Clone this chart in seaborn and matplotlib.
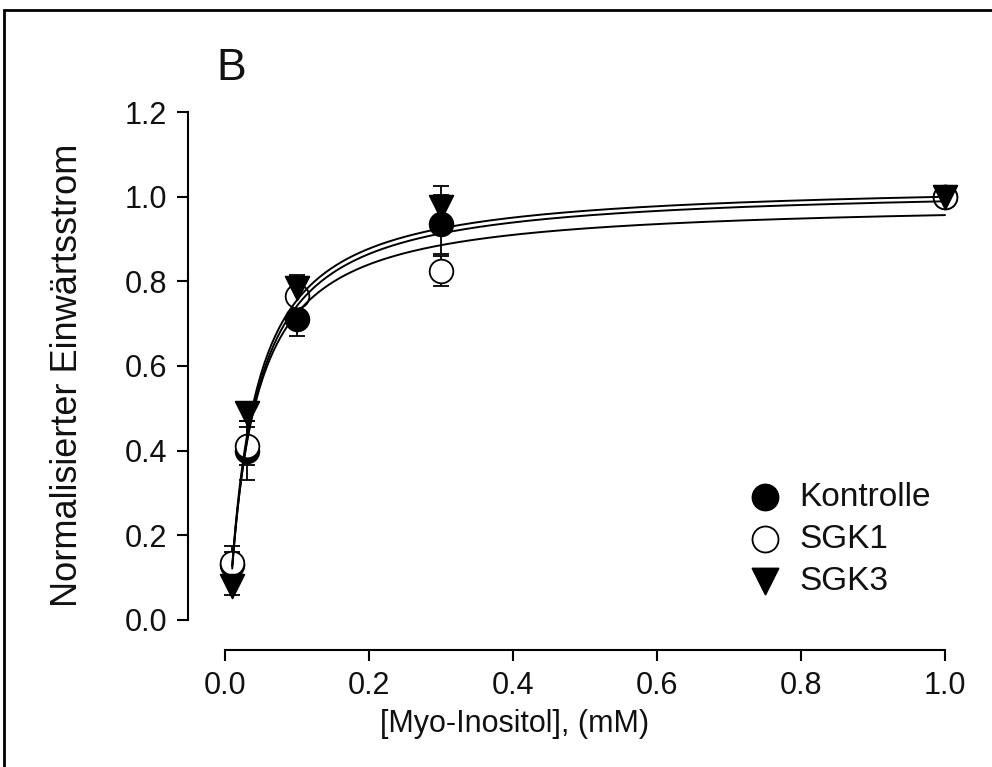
import numpy as np
import pandas as pd
import matplotlib.pyplot as plt
import seaborn as sns
from matplotlib import font_manager
from matplotlib.patches import Rectangle

# Myo-Inositol concentrations (mM)
conc = [0.01, 0.03, 0.1, 0.3, 1.0]

kontrolle = [0.13, 0.40, 0.71, 0.935, 1.0]
kontrolle_err = [0.03, 0.07, 0.04, 0.07, 0.0]
sgk1 = [0.135, 0.41, 0.765, 0.825, 1.0]
sgk1_err = [0.04, 0.045, 0.02, 0.035, 0.0]
sgk3 = [0.08, 0.49, 0.785, 0.975, 1.0]
sgk3_err = [0.02, 0.02, 0.03, 0.05, 0.0]

# fitted hyperbolas y = y0 + V*x/(K+x): (y0, V, K)
fit_kontrolle = (-0.17, 1.195, 0.031)
fit_sgk1 = (-0.16, 1.15, 0.030)
fit_sgk3 = (-0.175, 1.21, 0.030)

xticks = [0.0, 0.2, 0.4, 0.6, 0.8, 1.0]
yticks = [0.0, 0.2, 0.4, 0.6, 0.8, 1.0, 1.2]

sns.set_theme(style='white')
plt.rcParams['font.family'] = ['Liberation Sans', 'DejaVu Sans']

try:
    font_manager.findfont('Liberation Sans Narrow', fallback_to_default=False)
    xlab_font, xlab_size = ['Liberation Sans Narrow', 'Liberation Sans'], 26
except ValueError:
    xlab_font, xlab_size = ['Liberation Sans', 'DejaVu Sans'], 22

fig = plt.figure(figsize=(9.92, 7.67), dpi=100)
ax = fig.add_axes([188 / 992, 1 - 650 / 767, (960 - 188) / 992, (650 - 112) / 767])

series = [
    ('Kontrolle', kontrolle, kontrolle_err, 'o', 'black'),
    ('SGK1', sgk1, sgk1_err, 'o', 'white'),
    ('SGK3', sgk3, sgk3_err, 'v', 'black'),
]
for name, vals, err, marker, face in series:
    ax.errorbar(conc, vals, yerr=err, fmt='none', ecolor='black', elinewidth=1.3,
                capsize=6, capthick=1.3, zorder=2)
    df = pd.DataFrame({'x': conc, 'y': vals})
    sns.scatterplot(data=df, x='x', y='y', marker=marker, s=290, color=face,
                    edgecolor='black', linewidth=1.3, ax=ax, zorder=3, label=name,
                    clip_on=False)

xs = np.linspace(conc[0], conc[-1], 400)
for y0, vmax, k in [fit_kontrolle, fit_sgk1, fit_sgk3]:
    curve = pd.DataFrame({'x': xs, 'y': y0 + vmax * xs / (k + xs)})
    sns.lineplot(data=curve, x='x', y='y', color='black', linewidth=1.4, ax=ax, zorder=4)

ax.set_xlim(-0.0514, 1.0208)
ax.set_ylim(-0.0709, 1.2)
ax.set_xticks(xticks)
ax.set_yticks(yticks)
ax.set_xticklabels([f'{t:.1f}' for t in xticks])
ax.set_yticklabels([f'{t:.1f}' for t in yticks])
for s in ['top', 'right']:
    ax.spines[s].set_visible(False)
ax.spines['left'].set_bounds(0, 1.2)
ax.spines['bottom'].set_bounds(0, 1.0)
for s in ['left', 'bottom']:
    ax.spines[s].set_color('black')
    ax.spines[s].set_linewidth(1.5)
ax.tick_params(axis='both', direction='out', length=8, width=1.5, color='black',
               labelsize=22, labelcolor='#111111', bottom=True, left=True, pad=7)
ax.set_xlabel('')
ax.set_ylabel('')
ax.grid(False)

fig.text(515 / 992, 1 - 724 / 767, '[Myo-Inositol], (mM)', fontsize=xlab_size,
         family=xlab_font, color='#111111', ha='center', va='center')
fig.text(68 / 992, 1 - 375 / 767, 'Normalisierter Einwärtsstrom', fontsize=26,
         color='#111111', ha='center', va='center', rotation=90)

ax.legend(loc='upper left', bbox_to_anchor=(718 / 992, 1 - 452 / 767),
          bbox_transform=fig.transFigure, frameon=False, fontsize=24,
          handlelength=1.0, handletextpad=0.55, labelspacing=0.33, borderpad=0.4,
          labelcolor='#111111', markerscale=1.1)

fig.text(216 / 992, 1 - 80 / 767, 'B', fontsize=32, color='#111111')
fig.add_artist(Rectangle((4 / 992, -0.1), 1.2, 1 - 10 / 767 + 0.1, transform=fig.transFigure,
                         fill=False, edgecolor='black', linewidth=2))

fig.savefig('out.png', dpi=100)
